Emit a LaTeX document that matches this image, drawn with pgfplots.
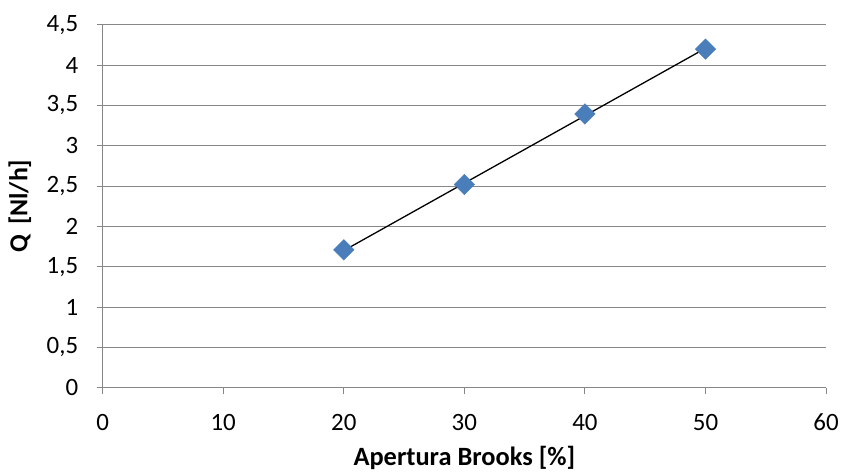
\documentclass[border=0pt]{standalone}
\usepackage{fontspec}
\setmainfont{Carlito}
\usepackage{pgfplots}
\pgfplotsset{compat=1.18}
\definecolor{gridgray}{HTML}{878787}
\definecolor{markblue}{HTML}{4A7EBB}
\begin{document}
\fontsize{25}{30}\selectfont
\begin{tikzpicture}
\begin{axis}[
  name=ax,
  scale only axis,
  width=726pt, height=364pt,
  xmin=0, xmax=60, ymin=0, ymax=4.5,
  axis x line*=bottom, axis y line*=left,
  axis line style={gridgray, line width=1pt, -},
  xtick={0,10,20,30,40,50,60},
  ytick={0,0.5,1,1.5,2,2.5,3,3.5,4,4.5},
  yticklabels={0,{0,5},1,{1,5},2,{2,5},3,{3,5},4,{4,5}},
  tick align=outside,
  major tick length=6pt,
  tick style={gridgray, line width=1pt},
  ymajorgrids,
  grid style={gridgray, line width=1pt},
  /pgf/number format/assume math mode=true,
  tick label style={font=\fontsize{25}{30}\selectfont, text=black},
  xticklabel style={yshift=-12pt},
  yticklabel style={xshift=-10pt},
  xlabel={\textbf{Apertura Brooks [\%]}},
  ylabel={\textbf{Q \,[Nl/h]}},
  every axis x label/.style={at={(axis description cs:0.5,0)}, yshift=-78pt, anchor=base, inner sep=0pt, font=\fontsize{26.5}{30}\selectfont},
  every axis y label/.style={at={(axis description cs:0,0.5)}, xshift=-83pt, rotate=90, anchor=center, inner sep=0pt, font=\fontsize{26}{30}\selectfont},
  clip=false,
]
\addplot[color=markblue, only marks, mark=square*, mark size=7.3pt, mark options={rotate=45, fill=markblue, draw=markblue}]
  coordinates {(20,1.71) (30,2.52) (40,3.395) (50,4.20)};
\addplot[black, line width=1.3pt, mark=none]
  coordinates {(20,1.70) (50,4.21)};
\end{axis}
\path ([shift={(-103pt,-86pt)}]ax.south west) rectangle ([shift={(18pt,25pt)}]ax.north east);
\end{tikzpicture}
\end{document}
